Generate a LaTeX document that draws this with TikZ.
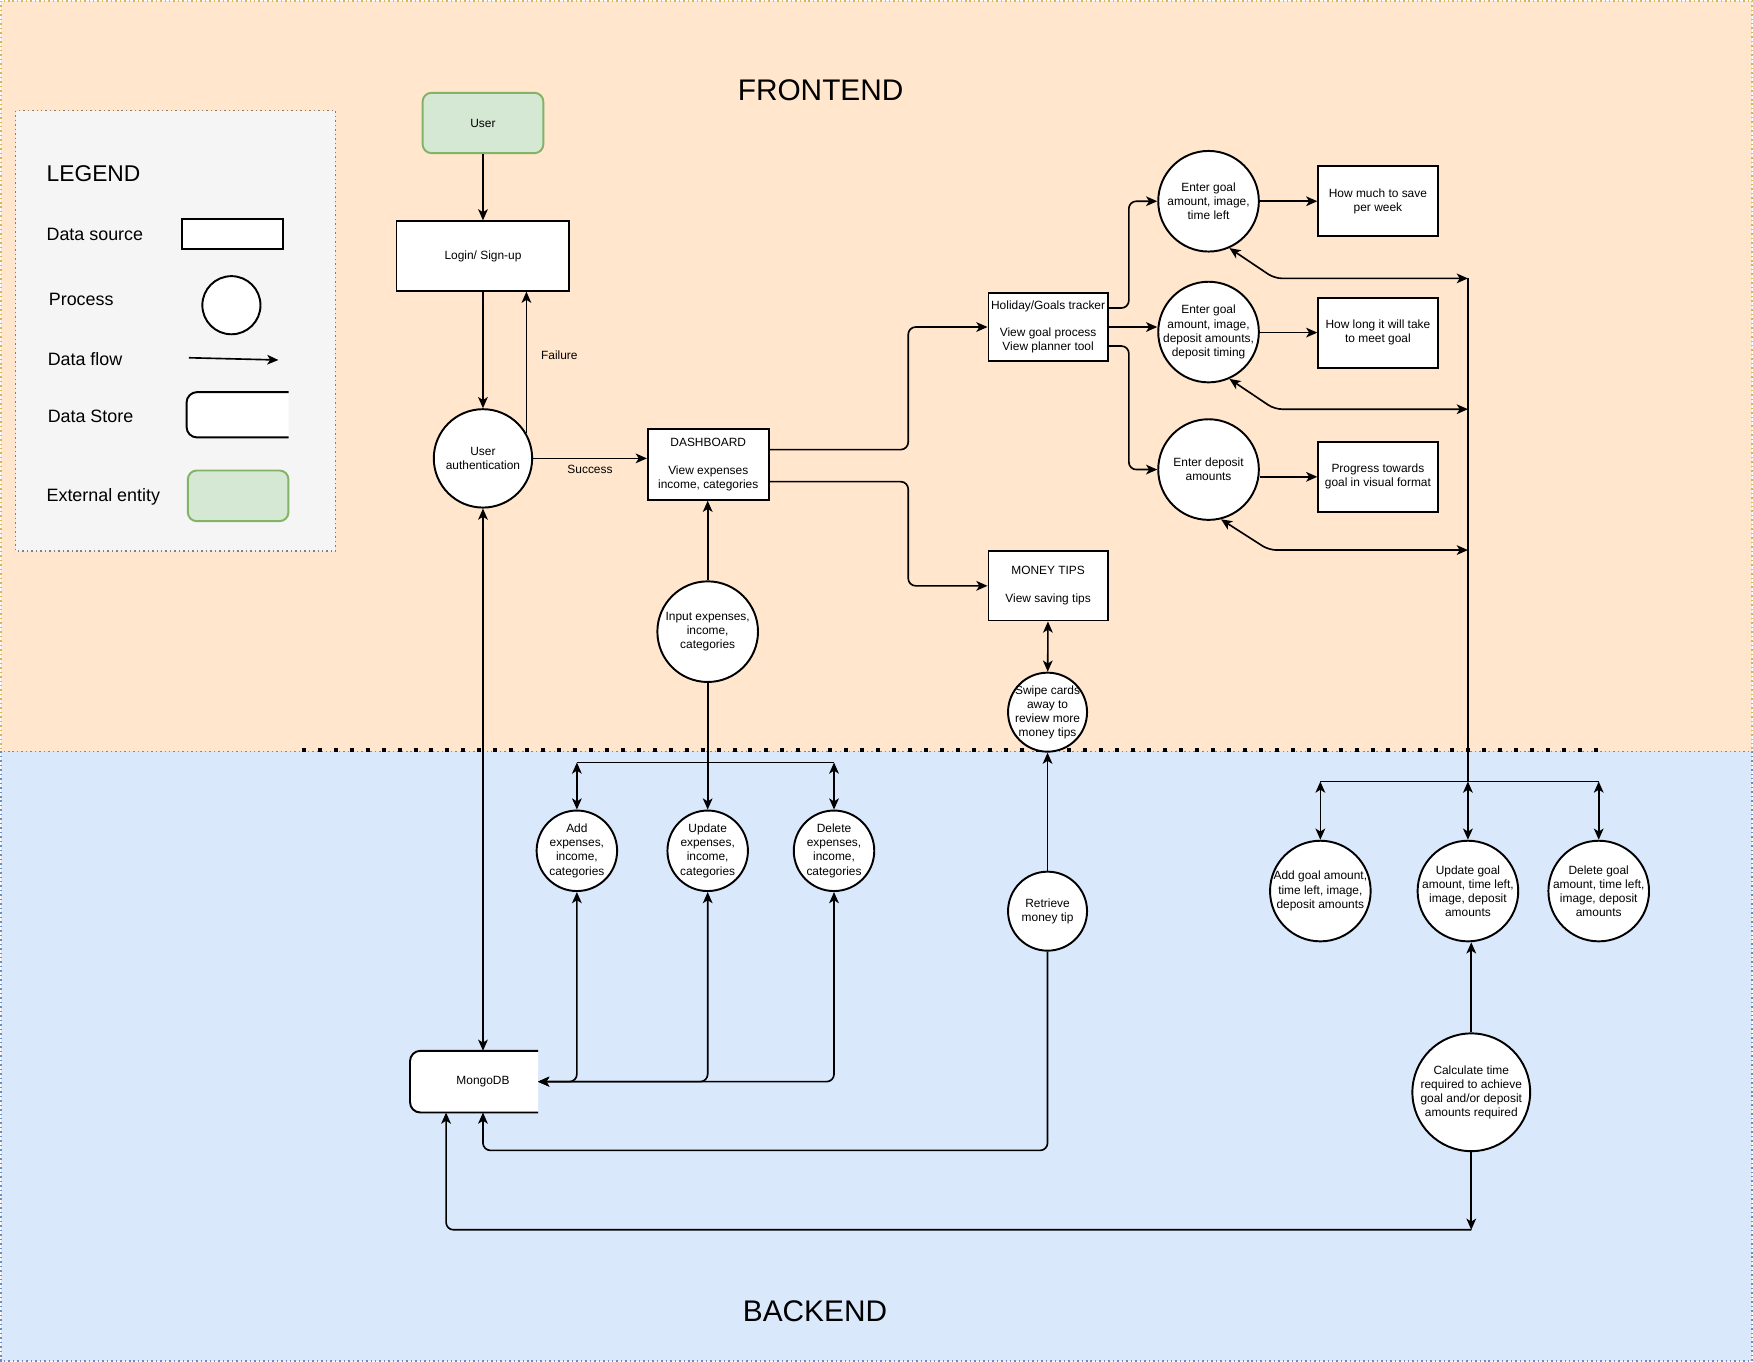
\documentclass[tikz,border=0pt]{standalone}
\usepackage{fontspec}
\setmainfont{Liberation Sans}
\usetikzlibrary{arrows.meta,positioning}

\definecolor{frontfill}{HTML}{FFE6CC}
\definecolor{frontline}{HTML}{D6B656}
\definecolor{backfill}{HTML}{DAE8FC}
\definecolor{backline}{HTML}{6C8EBF}
\definecolor{legendfill}{HTML}{F5F5F5}
\definecolor{entfill}{HTML}{D5E8D4}
\definecolor{entline}{HTML}{82B366}

\tikzset{
  >={Stealth[length=7.5pt,width=6.5pt,inset=2pt]},
  txt/.style={font=\fontsize{8}{9.5}\selectfont, align=center},
  source/.style={txt, draw, line width=1.3pt, fill=white, inner sep=1pt},
  proc/.style={txt, circle, draw, line width=1.3pt, fill=white, inner sep=-8pt},
  entity/.style={txt, draw=entline, line width=1.3pt, fill=entfill, rounded corners=6pt},
  store/.style={txt, inner sep=0pt},
  storeline/.style={line width=1.3pt, fill=white, rounded corners=7pt},
  flow/.style={->, line width=1.1pt, rounded corners=5pt},
  twoway/.style={<->, line width=1.1pt, rounded corners=5pt},
  bus/.style={line width=1.1pt},
  lbl/.style={font=\fontsize{8}{9.5}\selectfont},
  legendtext/.style={anchor=west, font=\fontsize{12}{14}\selectfont},
  title/.style={font=\fontsize{20}{24}\selectfont},
}

\begin{document}
\begin{tikzpicture}[x=0.75pt,y=-0.75pt]
\useasboundingbox (0,0) rectangle (1568,1218);

% Regions
\draw[frontline, fill=frontfill, dotted, line width=1pt] (0.7,0.7) rectangle (1567.3,672);
\draw[backline, fill=backfill, dotted, line width=1pt] (0.7,672) rectangle (1567.3,1217.3);
\draw[line width=2.7pt, dash pattern=on 2.7pt off 8pt] (270,671) -- (1435,671);
\node[title] (front) at (734,81) {FRONTEND};
\node[title] (back) at (729,1173) {BACKEND};

% Legend
\draw[gray, fill=legendfill, dotted, line width=1pt] (14,99) rectangle (300,493);
\node[anchor=west, font=\fontsize{15.3}{18}\selectfont] (legend) at (37,155) {LEGEND};
\node[legendtext] (tsrc) at (37,210) {Data source};
\node[legendtext] (tproc) at (39,268) {Process};
\node[legendtext] (tflow) at (38,321) {Data flow};
\node[legendtext] (tstore) at (38,372) {Data Store};
\node[legendtext] (tent) at (37,444) {External entity};
\node[source, minimum width=67.5pt, minimum height=20pt] (lsrc) at (208,209.5) {};
\node[proc, minimum size=39pt] (lproc) at (207,273) {};
\coordinate (lflowa) at (169,320);
\coordinate (lflowb) at (249,322);
\draw[flow] (lflowa) -- (lflowb);
\node[store, minimum width=68pt, minimum height=30pt] (lstore) at (212.5,371) {};
\filldraw[storeline] (lstore.north east) -- (lstore.north west) -- (lstore.south west) -- (lstore.south east);
\node[entity, minimum width=67.5pt, minimum height=34pt] (lent) at (213,443.5) {};

% Frontend
\node[entity, minimum width=81pt, minimum height=40.5pt] (user) at (432,110) {User};
\node[source, minimum width=116pt, minimum height=46.5pt] (login) at (432,229) {Login/ Sign-up};
\node[proc, minimum size=66pt] (auth) at (432,410) {User\\authentication};
\node[source, minimum width=81pt, minimum height=47.25pt] (dash) at (633.5,415.5) {DASHBOARD\\[9pt]View expenses\\income, categories};
\node[source, minimum width=80pt, minimum height=46pt] (holiday) at (937.5,292.5) {Holiday/Goals tracker\\[9pt]View goal process\\View planner tool};
\node[source, minimum width=80pt, minimum height=46.5pt] (tips) at (937.5,524) {MONEY TIPS\\[9pt]View saving tips};
\node[proc, minimum size=67.5pt] (input) at (633,565) {Input expenses,\\income,\\categories};
\node[proc, minimum size=53pt] (swipe) at (937,637) {Swipe cards\\away to\\review more\\money tips};

\node[proc, minimum size=67.5pt] (goala) at (1081,180) {Enter goal\\amount, image,\\time left};
\node[proc, minimum size=67.5pt] (goalb) at (1081,297) {Enter goal\\amount, image,\\deposit amounts,\\deposit timing};
\node[proc, minimum size=67.5pt] (goalc) at (1081,420) {Enter deposit\\amounts};
\node[source, minimum width=80pt, minimum height=47pt] (resa) at (1232.5,180) {How much to save\\per week};
\node[source, minimum width=80pt, minimum height=47pt] (resb) at (1232.5,297.5) {How long it will take\\to meet goal};
\node[source, minimum width=80pt, minimum height=47pt] (resc) at (1232.5,426.5) {Progress towards\\goal in visual format};

% Backend
\node[proc, minimum size=54pt] (addx) at (516,761) {Add\\expenses,\\income,\\categories};
\node[proc, minimum size=54pt] (updx) at (633,761) {Update\\expenses,\\income,\\categories};
\node[proc, minimum size=54pt] (delx) at (746,761) {Delete\\expenses,\\income,\\categories};
\node[proc, minimum size=53pt] (retr) at (937,815) {Retrieve\\money tip};
\node[store, minimum width=85.5pt, minimum height=41pt] (mongo) at (424,967.5) {};
\filldraw[storeline] (mongo.north east) -- (mongo.north west) -- (mongo.south west) -- (mongo.south east);
\node[store] (mongotext) at (mongo) {\hspace*{12pt}MongoDB};

\node[proc, minimum size=67.5pt] (addg) at (1181,797) {Add goal amount,\\time left, image,\\deposit amounts};
\node[proc, minimum size=67.5pt] (updg) at (1313,797) {Update goal\\amount, time left,\\image, deposit\\amounts};
\node[proc, minimum size=67.5pt] (delg) at (1430,797) {Delete goal\\amount, time left,\\image, deposit\\amounts};
\node[proc, minimum size=79pt] (calc) at (1316,977) {Calculate time\\required to achieve\\goal and/or deposit\\amounts required};

% Flows
\draw[flow] (user) -- (login);
\draw[flow] (login) -- (auth);
\draw[flow] (auth.30) -- (auth.30 |- login.south) node[lbl, right=6pt, pos=0.55] {Failure};
\draw[flow] (auth.east) -- (auth.east -| dash.west) node[lbl, below=1pt, midway] {Success};
\draw[flow] ([yshift=10pt]dash.east) -- ++(93pt,0) |- (holiday.west);
\draw[flow] ([yshift=-11.5pt]dash.east) -- ++(93pt,0) |- (tips.west);
\draw[flow] (input.north) -- (input.north |- dash.south);
\draw[flow] (input) -- (updx);
\draw[twoway] (tips) -- (swipe);
\draw[flow] (retr) -- (swipe);

\draw[flow] ([yshift=12.75pt]holiday.east) -- ++(13.5pt,0) |- (goala.west);
\draw[flow] (holiday.east) -- (goalb.west |- holiday.east);
\draw[flow] ([yshift=-12.75pt]holiday.east) -- ++(13.5pt,0) |- (goalc.west);
\draw[flow] (goala) -- (resa);
\draw[flow] (goalb.east |- resb.west) -- (resb);
\draw[flow] (resc.west -| goalc.east) -- (resc);

% Expenses bus
\coordinate (xbusl) at (516,682);
\coordinate (xbusr) at (746,682);
\draw[bus] (xbusl) -- (xbusr);
\draw[twoway] (xbusl) -- (addx);
\draw[twoway] (xbusr) -- (delx);
\draw[twoway] (mongo.east) -| (addx.south);
\draw[twoway] (mongo.east) -| (updx.south);
\draw[twoway] (mongo.east) -| (delx.south);
\draw[twoway] (auth.south) -- (auth.south |- mongo.north);
\coordinate (tipbus) at (432,1029);
\draw[flow] (retr.south) |- (tipbus) -- (tipbus |- mongo.south);

% Goals bus
\coordinate (gka) at (1140,249);
\coordinate (gkb) at (1140,366);
\coordinate (gkc) at (1135,492);
\coordinate (gba) at (1313,249);
\coordinate (gbb) at (1313,366);
\coordinate (gbc) at (1313,492);
\coordinate (gbusm) at (1313,699);
\coordinate (gbusl) at (1181,699);
\coordinate (gbusr) at (1430,699);
\draw[twoway] (goala.-66) -- (gka) -- (gba);
\draw[twoway] (goalb.-66) -- (gkb) -- (gbb);
\draw[twoway] (goalc.-76) -- (gkc) -- (gbc);
\draw[bus] (gba) -- (gbusm);
\draw[bus] (gbusl) -- (gbusr);
\draw[twoway] (gbusl) -- (addg);
\draw[twoway] (gbusm) -- (updg);
\draw[twoway] (gbusr) -- (delg);
\draw[flow] (calc.north) -- (calc.north |- updg.south);
\coordinate (calcbus) at (1316,1100);
\coordinate (mbus) at (399,1100);
\draw[flow] (calc.south) -- (calcbus);
\draw[flow] (calcbus) -- (mbus) -- (mbus |- mongo.south);
\end{tikzpicture}
\end{document}
